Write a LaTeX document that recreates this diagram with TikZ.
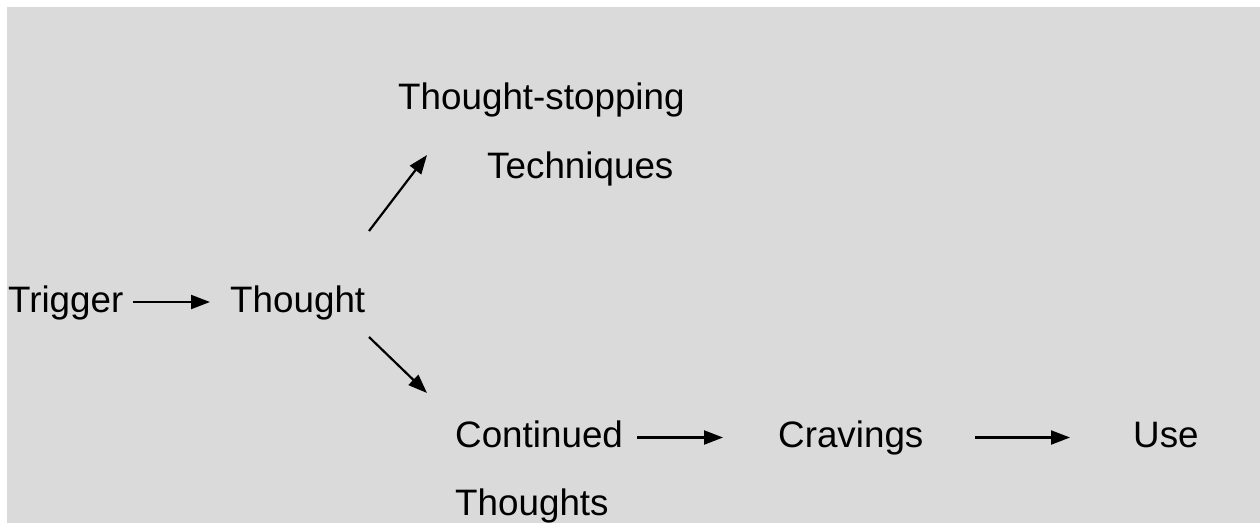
\documentclass[tikz,border=0pt]{standalone}
\usepackage{fontspec}
\setmainfont{Liberation Sans}
\usetikzlibrary{arrows.meta}
\definecolor{bggray}{RGB}{218,218,218}
\begin{document}
\begin{tikzpicture}[x=1pt,y=1pt,
  lbl/.style={anchor=base west, inner sep=0pt, text height=26pt, text depth=6pt,
    font=\fontsize{36.8pt}{44pt}\selectfont},
  arr/.style={line width=2.2pt, -{Triangle[length=19pt,width=14pt]}}]
\useasboundingbox (0,0) rectangle (1260,-523);
\fill[white] (0,0) rectangle (1260,-523);
\fill[bggray] (7,-7) rectangle (1260,-523);
\node[lbl] (trigger) at (8,-312) {Trigger};
\node[lbl] (thought) at (230,-312) {Thought};
\node[lbl] (stop) at (398,-109) {Thought-stopping};
\node[lbl] (tech) at (487,-178) {Techniques};
\node[lbl] (cont) at (455,-447.5) {Continued};
\node[lbl] (thoughts) at (455,-515) {Thoughts};
\node[lbl] (crav) at (778,-447.5) {Cravings};
\node[lbl] (use) at (1133,-447.5) {Use};
\draw[arr] ([xshift=125pt]trigger.west) -- ([xshift=-20pt]thought.west);
\draw[arr] ([shift={(139pt,71pt)}]thought.west) -- ([shift={(-60pt,13pt)}]tech.west);
\draw[arr] ([shift={(139pt,-35pt)}]thought.west) -- ([shift={(-28pt,44.5pt)}]cont.west);
\draw[arr] ([xshift=182pt]cont.west) -- ([xshift=-55pt]crav.west);
\draw[arr] ([xshift=197pt]crav.west) -- ([xshift=-63pt]use.west);
\end{tikzpicture}
\end{document}
